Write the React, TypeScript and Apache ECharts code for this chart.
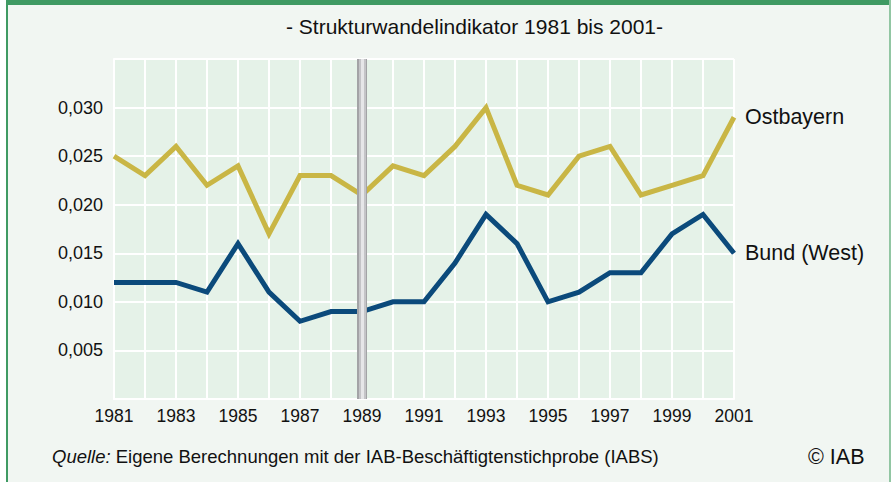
import React, { useEffect, useRef } from "react";
import * as echarts from "echarts";

const years = ["1981","1982","1983","1984","1985","1986","1987","1988","1989","1990","1991","1992","1993","1994","1995","1996","1997","1998","1999","2000","2001"];
const ostbayern = [0.025,0.023,0.026,0.022,0.024,0.017,0.023,0.023,0.021,0.024,0.023,0.026,0.030,0.022,0.021,0.025,0.026,0.021,0.022,0.023,0.029];
const bundWest = [0.012,0.012,0.012,0.011,0.016,0.011,0.008,0.009,0.009,0.010,0.010,0.014,0.019,0.016,0.010,0.011,0.013,0.013,0.017,0.019,0.015];
const markYear = "1989";
const titleText = "- Strukturwandelindikator 1981 bis 2001-";
const sourceLabel = "Quelle:";
const sourceText = " Eigene Berechnungen mit der IAB-Beschäftigtenstichprobe (IABS)";
const copyrightText = "© IAB";

const FONT = "'Liberation Sans', Arial, Helvetica, sans-serif";

export default function App() {
  const ref = useRef<HTMLDivElement>(null);
  useEffect(() => {
    if (!ref.current) return;
    const chart = echarts.init(ref.current, undefined, { renderer: "svg" });
    chart.setOption({
      animation: false,
      backgroundColor: "#ffffff",
      textStyle: { fontFamily: FONT },
      grid: {
        left: 114, top: 59, width: 620, height: 340,
        show: true, backgroundColor: "#e5f2e8", borderWidth: 0,
      },
      graphic: [
        { type: "rect", shape: { x: 7, y: 0, width: 884, height: 482 }, style: { fill: "#f1f6f2" }, z: -10, silent: true },
        { type: "rect", shape: { x: 7, y: 0, width: 884, height: 5 }, style: { fill: "#3f9a63" }, z: -9, silent: true },
        { type: "rect", shape: { x: 6, y: 0, width: 2, height: 482 }, style: { fill: "#3f9a63" }, z: -9, silent: true },
        { type: "rect", shape: { x: 889, y: 0, width: 2, height: 482 }, style: { fill: "#92c6a3" }, z: -9, silent: true },
        {
          type: "text", left: 286, top: 16,
          style: { text: titleText, font: `21px ${FONT}`, fill: "#111" },
        },
        {
          type: "text", left: 52, top: 447,
          style: {
            text: `{i|${sourceLabel}}{n|${sourceText}}`,
            rich: {
              i: { fontStyle: "italic", fontSize: 18.5, fontFamily: FONT, fill: "#111" },
              n: { fontSize: 18.5, fontFamily: FONT, fill: "#111" },
            },
          },
        },
        {
          type: "text", left: 808, top: 446,
          style: { text: copyrightText, font: `21.5px ${FONT}`, fill: "#111" },
        },
      ],
      xAxis: {
        type: "category",
        data: years,
        boundaryGap: false,
        axisLine: { show: true, lineStyle: { color: "#ffffff", width: 2 } },
        axisTick: { show: false },
        axisLabel: { interval: 1, fontSize: 17.5, color: "#111", margin: 8, fontFamily: FONT },
        splitLine: { show: true, interval: 0, lineStyle: { color: "#ffffff", width: 2 } },
      },
      yAxis: {
        type: "value",
        min: 0, max: 0.035, interval: 0.005,
        axisLine: { show: true, lineStyle: { color: "#ffffff", width: 2 } },
        axisTick: { show: false },
        axisLabel: {
          fontSize: 18, color: "#111", margin: 11, fontFamily: FONT,
          formatter: (v: number) => (v <= 0 || v >= 0.0349 ? "" : v.toFixed(3).replace(".", ",")),
        },
        splitLine: { show: true, lineStyle: { color: "#ffffff", width: 2 } },
      },
      series: [
        {
          type: "line",
          name: "marker",
          data: [],
          z: 1,
          markLine: {
            silent: true,
            symbol: "none",
            label: { show: false },
            data: [
              { xAxis: markYear, lineStyle: { color: "#a3a3a6", width: 10, type: "solid" } },
              { xAxis: markYear, lineStyle: { color: "#c4c4c7", width: 7, type: "solid" } },
              { xAxis: markYear, lineStyle: { color: "#e6e6e8", width: 3, type: "solid" } },
            ],
          },
        },
        {
          type: "line",
          name: "Ostbayern",
          data: ostbayern,
          z: 3,
          symbol: "none",
          lineStyle: { color: "#c9b645", width: 5, join: "miter" },
          itemStyle: { color: "#c9b645" },
          endLabel: { show: true, formatter: "{a}", fontSize: 21.5, color: "#111", distance: 11, fontFamily: FONT },
        },
        {
          type: "line",
          name: "Bund (West)",
          data: bundWest,
          z: 3,
          symbol: "none",
          lineStyle: { color: "#0b4a7b", width: 5, join: "miter" },
          itemStyle: { color: "#0b4a7b" },
          endLabel: { show: true, formatter: "{a}", fontSize: 21.5, color: "#111", distance: 11, fontFamily: FONT },
        },
      ],
    });
    return () => chart.dispose();
  }, []);
  return (
    <div
      ref={ref}
      style={{ position: "fixed", left: 0, top: 0, width: 894, height: 482 }}
    />
  );
}
